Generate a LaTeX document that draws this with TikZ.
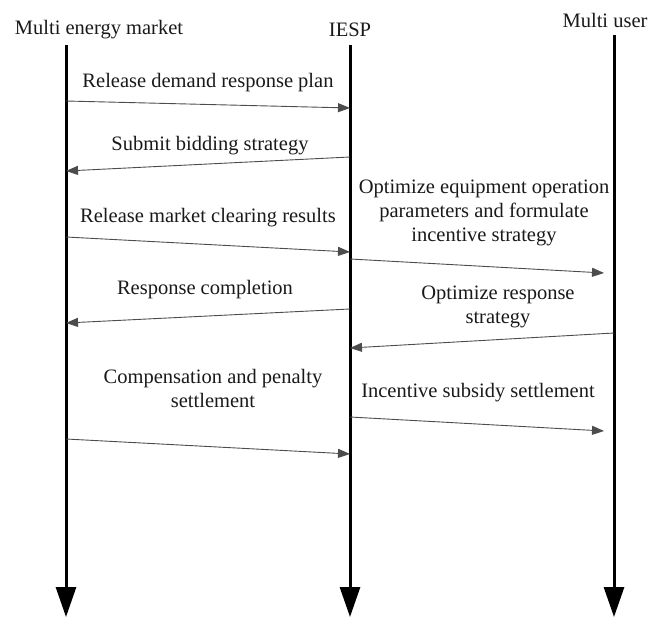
\documentclass[tikz,border=0pt]{standalone}
\usepackage{fontspec}
\setmainfont{Liberation Serif}
\usetikzlibrary{arrows.meta}
\tikzset{
  life/.style={line width=3pt,black,-{Triangle[length=30pt,width=20pt]}},
  msg/.style={line width=0.9pt,black!70,-{Triangle[length=12pt,width=9pt]}},
  lbl/.style={font=\fontsize{20.5}{24}\selectfont,align=center,inner sep=0pt,text=black!90},
}
\begin{document}
\begin{tikzpicture}[x=1pt,y=-1pt]
\useasboundingbox (0,0) rectangle (652,617);
% lifelines
\coordinate (Lt) at (66,45);  \coordinate (Lb) at (66,617);
\coordinate (Mt) at (350,45); \coordinate (Mb) at (350,617);
\coordinate (Rt) at (614,35); \coordinate (Rb) at (614,617);
\node[lbl] (hL) at (99,30) {Multi energy market};
\node[lbl] (hM) at (350,30) {IESP};
\node[lbl] (hR) at (605,20) {Multi user};
\draw[life] (Lt) -- (Lb);
\draw[life] (Mt) -- (Mb);
\draw[life] (Rt) -- (Rb);
% message end points
\coordinate (a1) at (66,101);  \coordinate (b1) at (350,108);
\coordinate (a2) at (350,157); \coordinate (b2) at (66,171);
\coordinate (a3) at (66,237);  \coordinate (b3) at (350,252);
\coordinate (a4) at (350,259); \coordinate (b4) at (604,273);
\coordinate (a5) at (350,309); \coordinate (b5) at (66,323);
\coordinate (a6) at (614,333); \coordinate (b6) at (350,348);
\coordinate (a7) at (66,439);  \coordinate (b7) at (350,454);
\coordinate (a8) at (350,417); \coordinate (b8) at (604,431);
\draw[msg] (a1) -- (b1);
\draw[msg] (a2) -- (b2);
\draw[msg] (a3) -- (b3);
\draw[msg] (a4) -- (b4);
\draw[msg] (a5) -- (b5);
\draw[msg] (a6) -- (b6);
\draw[msg] (a7) -- (b7);
\draw[msg] (a8) -- (b8);
% labels
\node[lbl] (t1) at (208,83) {Release demand response plan};
\node[lbl] (t2) at (210,146) {Submit bidding strategy};
\node[lbl] (t3) at (208,218) {Release market clearing results};
\node[lbl] (t4) at (484,213) {Optimize equipment operation\\parameters and formulate\\incentive strategy};
\node[lbl] (t5) at (205,290) {Response completion};
\node[lbl] (t6) at (498,307) {Optimize response\\strategy};
\node[lbl] (t7) at (213,388) {Compensation and penalty\\settlement};
\node[lbl] (t8) at (478,393) {Incentive subsidy settlement};
\end{tikzpicture}
\end{document}
